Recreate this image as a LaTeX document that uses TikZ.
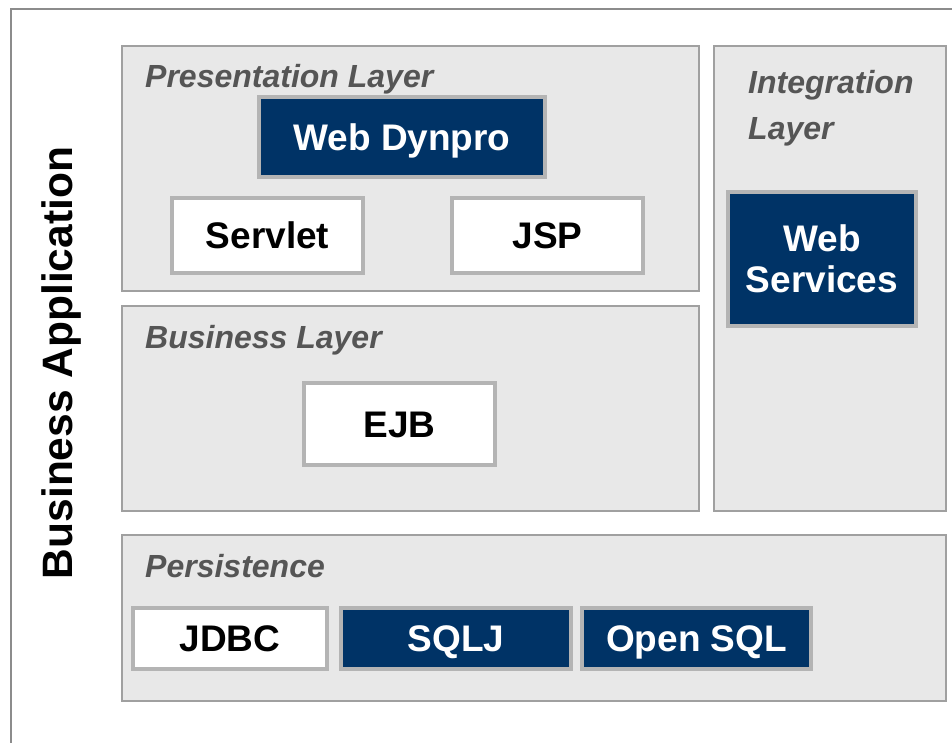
\documentclass[tikz,border=0pt]{standalone}
\usepackage{fontspec}
\setmainfont{Liberation Sans}
\definecolor{navy}{HTML}{003366}
\definecolor{layerfill}{HTML}{E8E8E8}
\definecolor{layerline}{HTML}{A0A0A0}
\definecolor{boxline}{HTML}{B4B4B4}
\definecolor{labelgray}{HTML}{555555}
\definecolor{framegray}{HTML}{8C8C8C}
\begin{document}
\begin{tikzpicture}[x=1pt,y=-1pt,
  layer/.style={draw=layerline, fill=layerfill, line width=2pt, anchor=north west, inner sep=0pt},
  basebox/.style={line width=3.5pt, draw=boxline, inner sep=0pt, align=center,
    font=\fontsize{37}{41}\selectfont\bfseries},
  capc/.style={text height=26.5pt, text depth=0pt},
  wbox/.style={basebox, fill=white, text=black},
  nbox/.style={basebox, fill=navy, text=white},
  lbl/.style={anchor=base west, inner sep=0pt, text=labelgray,
    font=\fontsize{32}{38}\selectfont\bfseries\itshape}]
\useasboundingbox (0,0) rectangle (952,742);
\fill[white] (0,0) rectangle (952,742);
\begin{scope}
  \clip (0,0) rectangle (952,742);
  \draw[framegray, line width=2pt] (11,9) rectangle (975,775);
\end{scope}
\node[rotate=90, inner sep=0pt, font=\fontsize{42.5}{48}\selectfont\bfseries] (app) at (62,363) {Business Application};

\node[layer, minimum width=577pt, minimum height=245pt] (pres) at (121,45) {};
\node[layer, minimum width=232pt, minimum height=465pt] (integ) at (713,45) {};
\node[layer, minimum width=577pt, minimum height=205pt] (bus) at (121,305) {};
\node[layer, minimum width=824pt, minimum height=166pt] (pers) at (121,534) {};

\node[lbl] (presl) at (145,87) {Presentation Layer};
\node[lbl] (busl) at (145,348) {Business Layer};
\node[lbl] (persl) at (145,577) {Persistence};
\node[lbl] (integl) at (748,93) {Integration};
\node[lbl] (integl2) at (748,139) {Layer};

\node[nbox, capc, minimum width=286pt, minimum height=80pt] (wd) at (402,137) {Web Dynpro};
\node[wbox, capc, minimum width=191pt, minimum height=75pt] (servlet) at (267.5,235.5) {Servlet};
\node[wbox, capc, minimum width=191pt, minimum height=75pt] (jsp) at (547.5,235.5) {JSP};
\node[wbox, capc, minimum width=191pt, minimum height=82pt] (ejb) at (399.5,424) {EJB};
\node[nbox, minimum width=188pt, minimum height=134pt] (ws) at (822,259) {Web\\Services};
\node[wbox, capc, minimum width=194pt, minimum height=61pt] (jdbc) at (230,638.5) {JDBC};
\node[nbox, capc, minimum width=230pt, minimum height=61pt] (sqlj) at (456,638.5) {SQLJ};
\node[nbox, capc, minimum width=229pt, minimum height=61pt] (osql) at (696.5,638.5) {Open SQL};
\end{tikzpicture}
\end{document}
